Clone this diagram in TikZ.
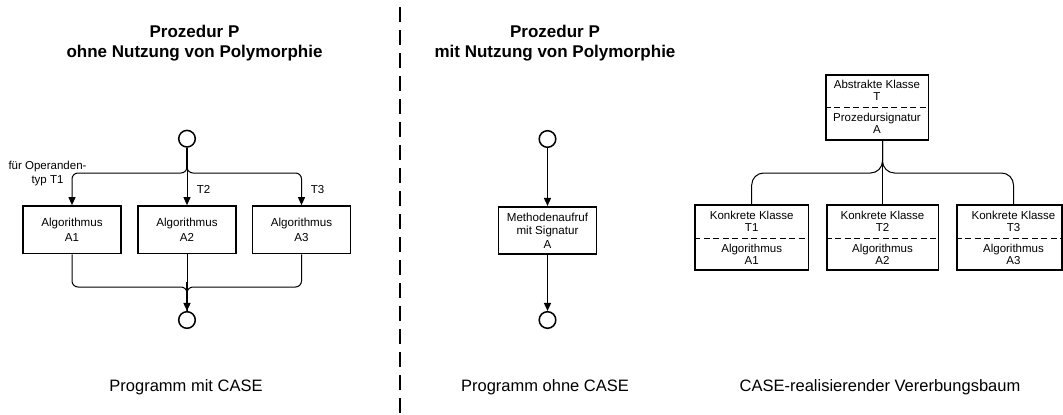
\documentclass[tikz,border=0pt]{standalone}
\usepackage{fontspec}
\setmainfont{Liberation Sans}
\usetikzlibrary{arrows.meta}
\tikzset{
  box/.style={draw, line width=1.6pt, minimum width=98pt, minimum height=47.5pt, inner sep=0pt,
              align=center, font=\fontsize{11.6}{14.5}\selectfont},
  mbox/.style={box, font=\fontsize{11.6}{13.3}\selectfont},
  kbox/.style={draw, line width=1.6pt, minimum height=65pt, inner sep=0pt},
  ktxt/.style={align=center, inner sep=0pt, font=\fontsize{11.5}{12.3}\selectfont},
  kdash/.style={line width=1pt, dash pattern=on 6pt off 3.5pt},
  term/.style={draw, circle, line width=1.5pt, minimum size=16.6pt, inner sep=0pt},
  trunk/.style={line width=1.5pt},
  branch/.style={line width=1pt, rounded corners=6pt},
  tree/.style={line width=1pt, rounded corners=12pt},
  tip/.style={-{Triangle[length=8pt,width=7pt]}},
  titletext/.style={font=\fontsize{17}{20}\selectfont\bfseries, align=center, inner sep=0pt},
  captext/.style={font=\fontsize{16.5}{19}\selectfont, inner sep=0pt},
  lbl/.style={font=\fontsize{11.5}{14}\selectfont, align=center, inner sep=0pt},
  divider/.style={line width=1.3pt, dash pattern=on 15pt off 8pt}
}
\begin{document}
\begin{tikzpicture}[x=1pt,y=-1pt]
\useasboundingbox[fill=white] (0,0) rectangle (1063,415);

% titles
\node[titletext, anchor=north] (t1) at (194.5,24.6) {Prozedur P\\ohne Nutzung von Polymorphie};
\node[titletext, anchor=north] (t2) at (555,24.6) {Prozedur P\\mit Nutzung von Polymorphie};

% divider
\coordinate (dtop) at (400,7);
\coordinate (dbot) at (400,415);
\draw[divider] (dtop) -- (dbot);

% ---------- left: Programm mit CASE ----------
\node[term] (s1) at (187,138.7) {};
\node[box] (a1) at (72,229.7) {Algorithmus\\A1};
\node[box] (a2) at (187,229.7) {Algorithmus\\A2};
\node[box] (a3) at (301.5,229.7) {Algorithmus\\A3};
\node[term] (e1) at (187,320) {};
\coordinate (jl) at (187,173);
\coordinate (jb) at (187,287);

\draw[branch, tip] (s1.south) -- (jl) -| (a1.north);
\draw[branch, tip] (s1.south) -- (jl) -| (a3.north);
\draw[branch, tip] (s1.south) -- (a2.north);
\draw[trunk] (s1.south) -- ++(0,20);

\draw[branch] (a1.south) |- (jb) -- (e1.north);
\draw[branch] (a3.south) |- (jb) -- (e1.north);
\draw[branch] (a2.south) -- (e1.north);
\draw[trunk, tip] (jb) ++(0,-5) -- (e1.north);

\node[lbl, anchor=north] (l1) at (47.5,160.6) {für Operanden-\\typ T1};
\node[lbl, anchor=base] (l2) at (203.5,193.3) {T2};
\node[lbl, anchor=base] (l3) at (317.5,193.3) {T3};

\node[captext, anchor=base] (c1) at (186,391.7) {Programm mit CASE};

% ---------- middle: Programm ohne CASE ----------
\node[term] (s2) at (547.5,139) {};
\node[mbox] (m) at (547.5,230.5) {Methodenaufruf\\mit Signatur\\A};
\node[term] (e2) at (547.5,320) {};
\draw[trunk, tip] (s2.south) -- (m.north);
\draw[trunk, tip] (m.south) -- (e2.north);

\node[captext, anchor=base] (c2) at (545,391.7) {Programm ohne CASE};

% ---------- right: Vererbungsbaum ----------
\node[kbox, minimum width=102.6pt] (T) at (877,107.5) {};
\draw[kdash] (T.west |- 0,107) coordinate (tdl) -- (T.east |- 0,107) coordinate (tdr);
\node[ktxt] (Ta) at (877,90.5) {Abstrakte Klasse\\T};
\node[ktxt] (Tb) at (877,123) {Prozedursignatur\\A};

\node[kbox, minimum width=113.3pt] (k1) at (751.7,237.5) {};
\node[kbox, minimum width=111.6pt] (k2) at (882.5,237.5) {};
\node[kbox, minimum width=105pt] (k3) at (1009.2,237.5) {};
\foreach \k in {k1,k2,k3}{
  \draw[kdash] (\k.west |- 0,238.3) -- (\k.east |- 0,238.3);
}
\node[ktxt] (k1a) at (751.7,221.2) {Konkrete Klasse\\T1};
\node[ktxt] (k1b) at (751.7,254.2) {Algorithmus\\A1};
\node[ktxt] (k2a) at (882.5,221.2) {Konkrete Klasse\\T2};
\node[ktxt] (k2b) at (882.5,254.2) {Algorithmus\\A2};
\node[ktxt] (k3a) at (1013.5,221.2) {Konkrete Klasse\\T3};
\node[ktxt] (k3b) at (1013.5,254.2) {Algorithmus\\A3};

\coordinate (tt) at (T.south -| k2.north);
\coordinate (jt) at (882.5,173);
\coordinate (k3top) at (k3.north -| k3a.north);
\draw[tree] (tt) -- (jt) -| (k1.north);
\draw[tree] (tt) -- (jt) -| (k3top);
\draw[tree] (tt) -- (k2.north);
\draw[trunk] (tt) -- ++(0,22);

\node[captext, anchor=base] (c3) at (880,391.7) {CASE-realisierender Vererbungsbaum};
\end{tikzpicture}
\end{document}
